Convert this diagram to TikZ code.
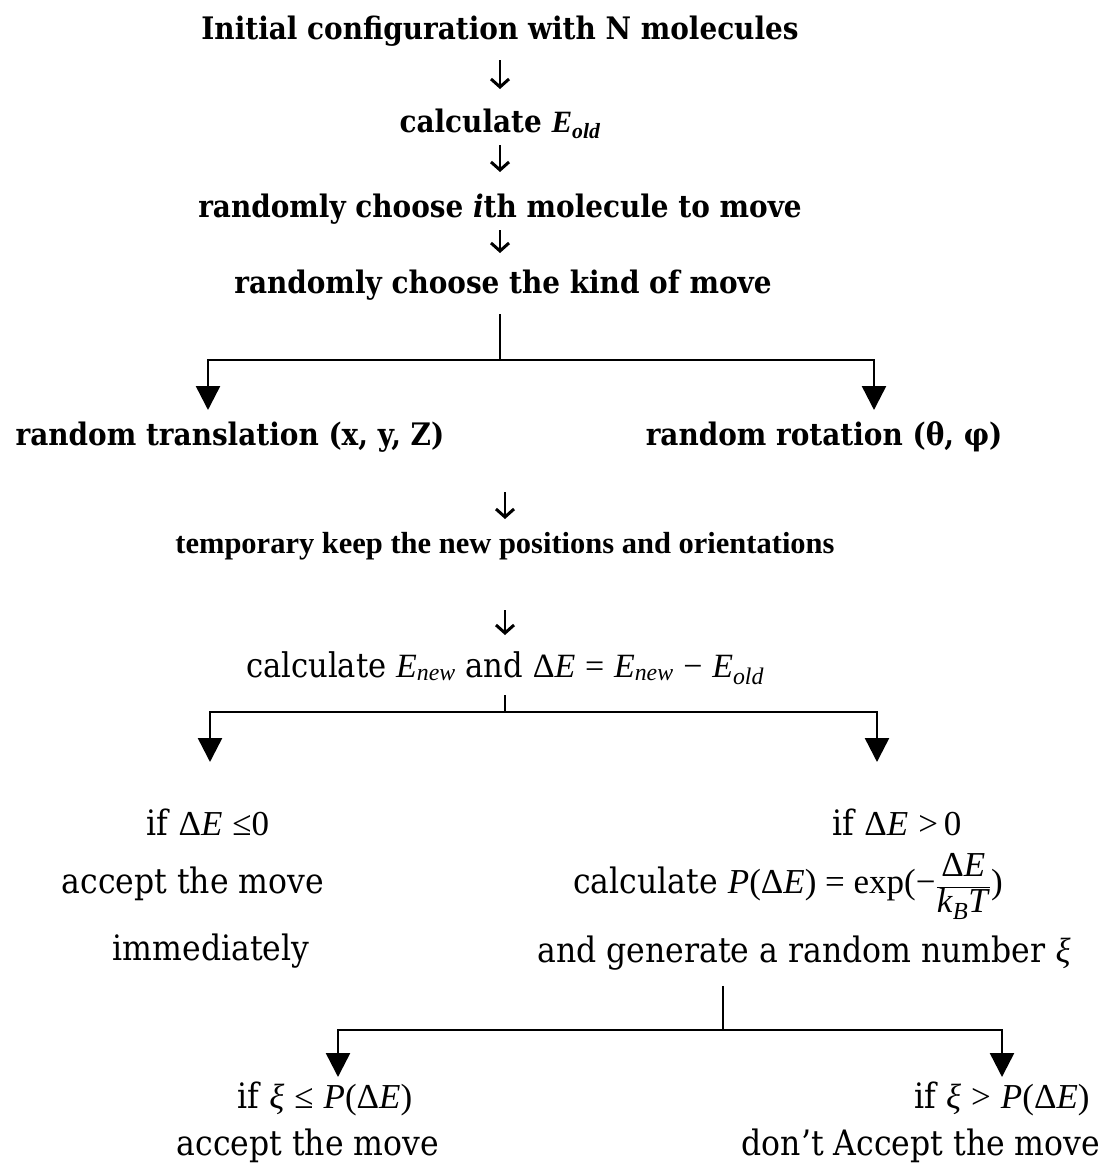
\documentclass[tikz,border=0pt]{standalone}
\usepackage{fontspec}
\setmainfont{DejaVu Serif}[FakeStretch=0.9]
\newfontfamily\varfont{Liberation Serif}
\usetikzlibrary{arrows.meta,positioning}
\newcommand{\mvar}[1]{{\varfont\itshape #1}}
\newcommand{\Esub}[1]{\mvar{E}\textsubscript{\mvar{#1}}}
\newcommand{\dE}{{\varfont Δ\textit{E}}}

\tikzset{
  flowtext/.style={inner sep=0pt,anchor=base},
  headtext/.style={flowtext,font=\bfseries\fontsize{31}{37}\selectfont},
  movetext/.style={flowtext,font=\bfseries\fontsize{31}{37}\selectfont},
  smalltext/.style={flowtext,font=\varfont\bfseries\fontsize{30.5}{36}\selectfont},
  casetext/.style={flowtext,font=\fontsize{35}{42}\selectfont},
  downarrow/.style={line width=2.5pt,-{Straight Barb[length=8pt,width=18pt,line width=3pt]}},
  stemline/.style={line width=2pt},
  forkarrow/.style={line width=2.5pt,-{Triangle[length=24pt,width=24pt]}}
}

\begin{document}
\begin{tikzpicture}[x=1pt,y=-1pt]
\useasboundingbox (0,0) rectangle (1104,1167);

% main chain
\node[headtext] (init) at (500,39) {Initial configuration with N molecules};
\node[headtext] (calcold) at (500,132) {calculate \Esub{old}};
\node[headtext] (ichoose) at (500,217) {randomly choose {\itshape i}th molecule to move};
\node[headtext] (kind) at (503,293) {randomly choose the kind of move};
\draw[downarrow] ([yshift=-21pt]init.base) -- ([yshift=43pt]calcold.base);
\draw[downarrow] ([yshift=-13pt]calcold.base) -- ([yshift=45pt]ichoose.base);
\draw[downarrow] ([yshift=-13pt]ichoose.base) -- ([yshift=40pt]ichoose.base |- kind.base);

% kind of move
\node[movetext] (trans) at (230,445) {random translation (x, y, Z)};
\node[movetext] (rot) at (824,445) {random rotation (θ, φ)};
\coordinate (fork1) at (500,360);
\coordinate (transtip) at (208,410);
\coordinate (rottip) at (874,410);
\draw[stemline] (fork1 |- kind.south) ++(0,14) -- (fork1);
\draw[forkarrow] (fork1) -| (transtip);
\draw[forkarrow] (fork1) -| (rottip);

\node[smalltext] (temp) at (505,553) {temporary keep the new positions and orientations};
\node[headtext,font=\fontsize{34}{40}\selectfont] (calcnew) at (505,677)
  {calculate \Esub{new} and \dE{} {\varfont =} \Esub{new} {\varfont −} \Esub{old}};
\coordinate (merge) at (505,492);
\draw[downarrow] (merge) -- ([yshift=34pt]temp.base);
\draw[downarrow] ([yshift=-57pt]temp.base) -- ([yshift=42pt]calcnew.base);

% energy test
\coordinate (fork2) at (505,712);
\coordinate (negtip) at (210,762);
\coordinate (postip) at (877,762);
\draw[stemline] ([yshift=-18pt]calcnew.base) -- (fork2);
\draw[forkarrow] (fork2) -| (negtip);
\draw[forkarrow] (fork2) -| (postip);

\node[casetext] (ifneg) at (208,835) {if \dE{} {\varfont ≤0}};
\node[casetext] (accept) at (193,893) {accept the move};
\node[casetext] (immed) at (211,960) {immediately};
\node[casetext] (ifpos) at (897,835) {if \dE{} {\varfont >\,0}};
\node[casetext] (calcP) at (788,893)
  {calculate {\varfont\textit{P}(\dE) = exp(−$\displaystyle\frac{\hbox{\dE}}{\hbox{\textit{k}\textsubscript{\textit{B}}\textit{T}}}$)}};
\node[casetext] (generate) at (804,962) {and generate a random number \mvar{ξ}};

% Metropolis test
\coordinate (fork3) at (723,1030);
\coordinate (yestip) at (338,1077);
\coordinate (notip) at (1002,1077);
\draw[stemline,shorten <=16pt] (fork3 |- generate.south) -- (fork3);
\draw[forkarrow] (fork3) -| (yestip);
\draw[forkarrow] (fork3) -| (notip);

\node[casetext] (ifyes) at (325,1108) {if \mvar{ξ} {\varfont ≤} \mvar{P}{\varfont (}\dE{\varfont )}};
\node[casetext] (acceptxi) at (308,1155) {accept the move};
\node[casetext] (ifno) at (1002,1108) {if \mvar{ξ} {\varfont >} \mvar{P}{\varfont (}\dE{\varfont )}};
\node[casetext] (dont) at (921,1155) {don’t Accept the move};
\end{tikzpicture}
\end{document}
